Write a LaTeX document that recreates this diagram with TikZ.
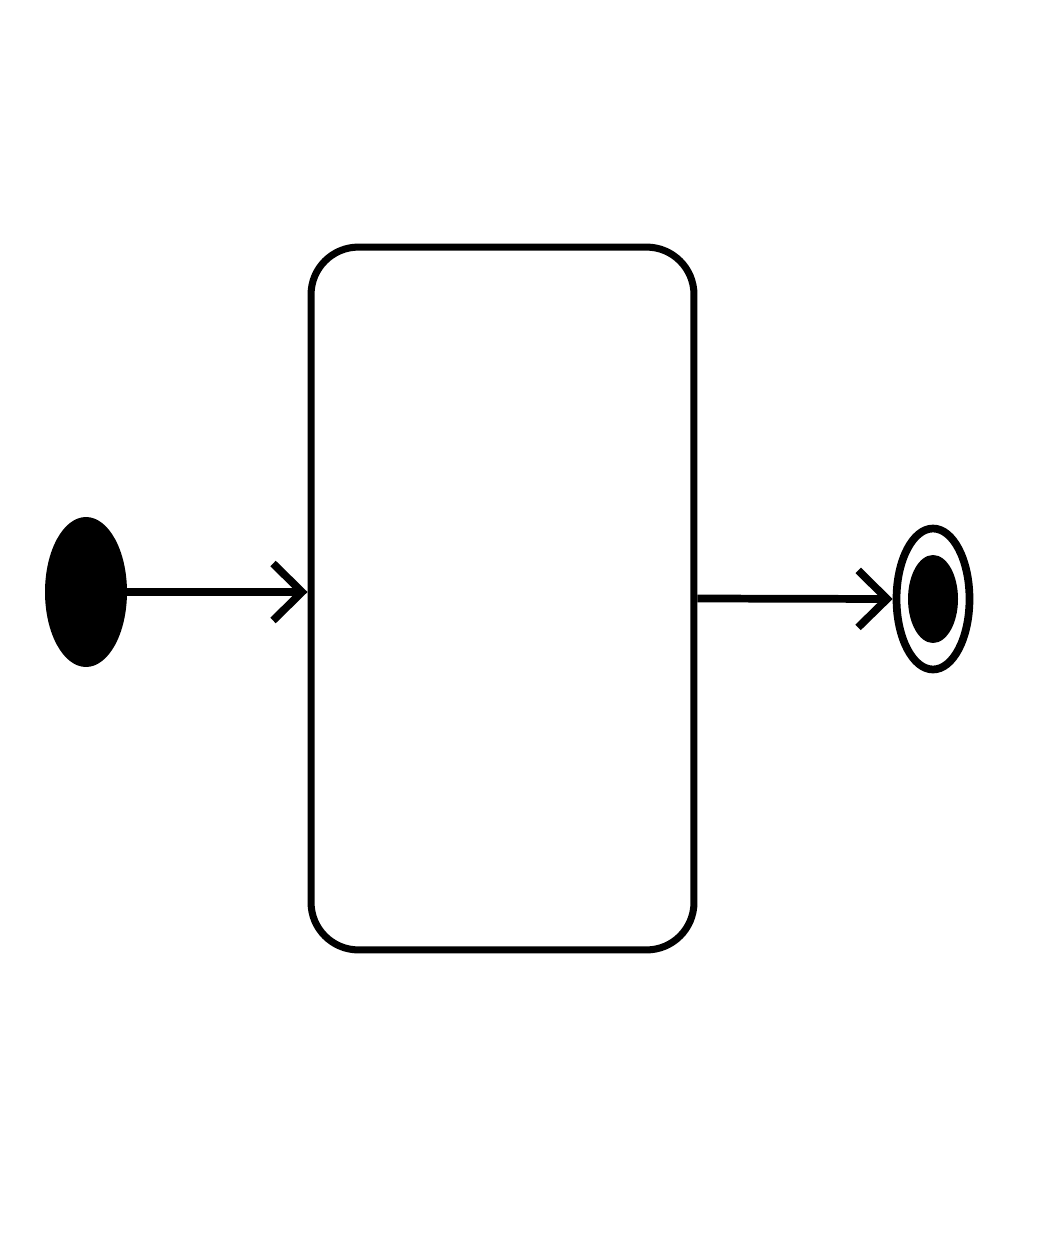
\documentclass[tikz,border=0pt]{standalone}
\usetikzlibrary{shapes.geometric,arrows.meta}
\tikzstyle{trans}=[-{Straight Barb[length=0.58cm,width=1.14cm,line width=4.4pt]},line width=4.4pt]
\tikzstyle{initial}=[ellipse,inner sep=0pt,fill=black,minimum width=1.64cm,minimum height=3cm]
\tikzstyle{state}=[rectangle,rounded corners=0.95cm,draw,line width=4pt,minimum width=7.66cm,minimum height=14.06cm]
\tikzstyle{final}=[ellipse,inner sep=0pt,draw,line width=4.4pt,minimum width=1.46cm,minimum height=2.82cm]
\tikzstyle{finaldot}=[ellipse,inner sep=0pt,fill=black,minimum width=1cm,minimum height=1.76cm]
\begin{document}
\begin{tikzpicture}[x=0.02cm,y=-0.02cm]
				\useasboundingbox (0,0) rectangle (1056,1256);
				
				%The initial state
				\node[initial] (init) at (86,592) {};
				
				%The state
				\node[state] (s) at (502.5,598.5) {};
				
				%The final state
				\node[final] (fin) at (933,599) {};
				\node[finaldot] (findot) at (933,599) {};
				
				%The transitions
				\draw[trans] (init.east) -- (init.east -| s.west);
				\draw[trans] (s.east) -- (fin.west);
			\end{tikzpicture}
\end{document}
